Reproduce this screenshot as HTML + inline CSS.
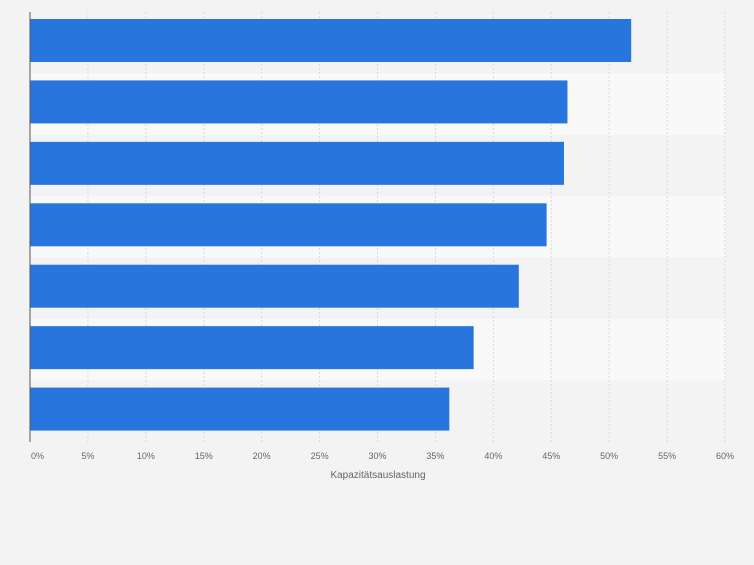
<!DOCTYPE html>
<html><head><meta charset="utf-8"><style>
body{margin:0;background:#f3f3f3;font-family:"Liberation Sans",sans-serif}
</style></head><body>
<svg id="chart" width="754" height="560" xmlns="http://www.w3.org/2000/svg">
<rect width="754" height="560" fill="#f3f3f3"/>
<g id="bands"></g><g id="grid"></g><g id="bars"></g><g id="ticks"></g>
<line x1="30" y1="12" x2="30" y2="442" stroke="#555" stroke-width="1"/>
<text x="378" y="478" font-size="10" fill="#666" text-anchor="middle">Kapazitätsauslastung</text>
</svg>
<script>
const categories=["A","B","C","D","E","F","G"];
const values=[51.9,46.4,46.1,44.6,42.2,38.3,36.2];
const tickValues=[0,5,10,15,20,25,30,35,40,45,50,55,60];
const tickLabels=["0%","5%","10%","15%","20%","25%","30%","35%","40%","45%","50%","55%","60%"];
const NS="http://www.w3.org/2000/svg";
const x0=30,x1=725,y0=12,y1=442,maxV=60;
const xs=v=>x0+(v/maxV)*(x1-x0);
const band=(y1-y0)/categories.length;
function mk(t,a,p){const e=document.createElementNS(NS,t);for(const k in a)e.setAttribute(k,a[k]);p.appendChild(e);return e;}
const gB=document.getElementById('bands'),gG=document.getElementById('grid'),gR=document.getElementById('bars'),gT=document.getElementById('ticks');
categories.forEach((c,i)=>{
  const r=mk('rect',{x:x0,y:y0+i*band,width:x1-x0,height:band,fill:i%2?'#f9f9f9':'#f3f3f3'},gB);
  
  
});
tickValues.forEach((v,i)=>{
  if(v>0){const l=mk('line',{x1:xs(v),x2:xs(v),y1:y0,y2:y1,stroke:'#d8d8d8','stroke-dasharray':'2,2'},gG);
  
  }
  const t=mk('text',{x:v===0?xs(v)+1:xs(v),y:459,'font-size':9,fill:'#666','text-anchor':v===0?'start':'middle'},gT);
  t.textContent=tickLabels[i];
  
  
});
values.forEach((v,i)=>{
  const r=mk('rect',{x:x0,y:y0+i*band+7,width:xs(v)-x0,height:43,fill:'#2876dd'},gR);
  
  
});
</script>
</body></html>
